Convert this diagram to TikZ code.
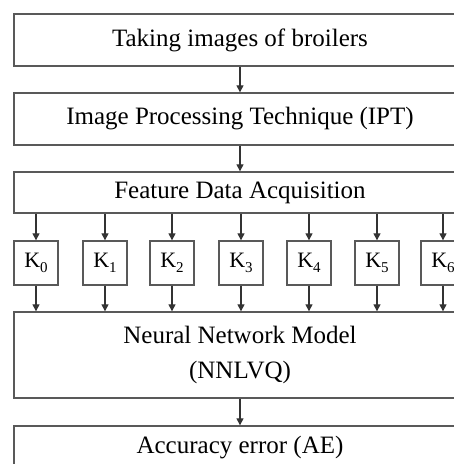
\documentclass[tikz,border=0pt]{standalone}
\usepackage{fontspec}
\setmainfont{Liberation Serif}
\usetikzlibrary{arrows.meta}
\tikzset{
  box/.style={draw=black!65, line width=1.4pt, fill=white, rectangle, inner sep=0pt,
    font=\fontsize{25}{35}\selectfont, align=center},
  kbox/.style={box, minimum width=44pt, minimum height=44pt, font=\fontsize{22}{24}\selectfont},
  conn/.style={draw=black!80, line width=1.3pt, -{Triangle[length=7pt,width=7pt]}}
}
\newcommand{\Ksub}[1]{K\raisebox{-0.22em}{\fontsize{15}{15}\selectfont #1}}
\begin{document}
\begin{tikzpicture}[x=1pt,y=-1pt]
\useasboundingbox (0,0) rectangle (454,464);
\clip (0,0) rectangle (454,464);
\fill[white] (0,0) rectangle (454,464);
\node[box, minimum width=452pt, minimum height=52pt] (b1) at (240,40) {Taking images of broilers};
\node[box, minimum width=452pt, minimum height=52pt] (b2) at (240,119) {Image Processing Technique (IPT)};
\node[box, minimum width=452pt, minimum height=41pt] (b3) at (240,192.5) {Feature Data Acquisition};
\node[box, minimum width=452pt, minimum height=86pt] (b4) at (240,355) {\raisebox{-4pt}{Neural Network Model}\\\raisebox{-4pt}{(NNLVQ)}};
\node[box, minimum width=452pt, minimum height=44pt] (b5) at (240,448) {Accuracy error (AE)};
\node[kbox] (k0) at (36,263) {\Ksub{0}};
\node[kbox] (k1) at (105,263) {\Ksub{1}};
\node[kbox] (k2) at (172,263) {\Ksub{2}};
\node[kbox] (k3) at (241,263) {\Ksub{3}};
\node[kbox] (k4) at (309,263) {\Ksub{4}};
\node[kbox] (k5) at (377,263) {\Ksub{5}};
\node[kbox] (k6) at (443,263) {\Ksub{6}};
\draw[conn] (b1.south) -- (b2.north);
\draw[conn] (b2.south) -- (b3.north);
\draw[conn] (b4.south) -- (b5.north);
\foreach \k in {k0,k1,k2,k3,k4,k5,k6}{
  \draw[conn] (b3.south -| \k) -- (\k.north);
  \draw[conn] (\k.south) -- (b4.north -| \k);
}
\end{tikzpicture}
\end{document}
